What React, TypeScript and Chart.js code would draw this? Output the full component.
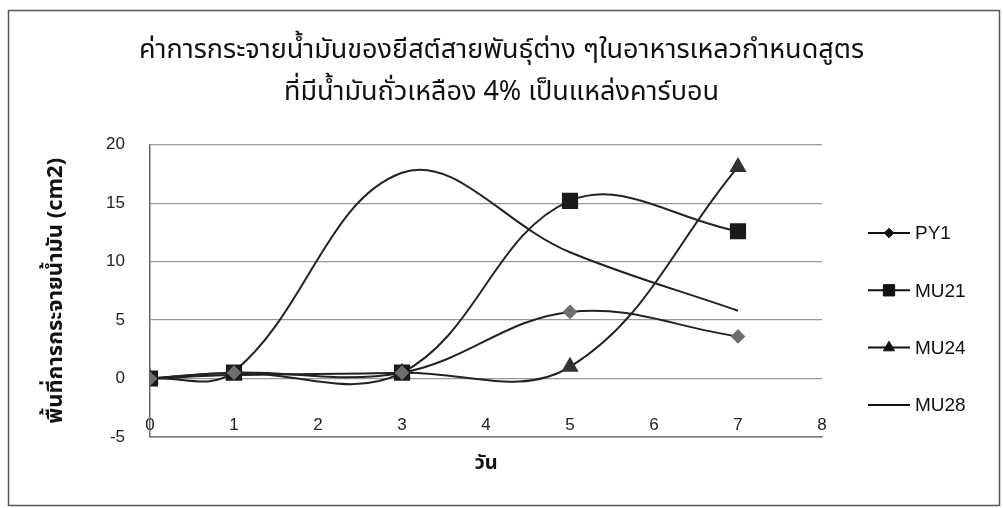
import React, { useEffect, useRef } from "react";
import { Chart, registerables } from "chart.js";
import { drawPoint } from "chart.js/helpers";

Chart.register(...registerables);

// ---- data ----
const days = [0, 1, 3, 5, 7];
const seriesNames = ["PY1", "MU21", "MU24", "MU28"];
const py1 = [0, 0.5, 0.5, 5.7, 3.6];
const mu21 = [0, 0.5, 0.5, 15.2, 12.6];
const mu24 = [0, 0.3, 0.5, 1.0, 18.1];
const mu28 = [0, 0.6, 17.6, 10.8, 5.8];
const titleLines = [
  "ค่าการกระจายน้ำมันของยีสต์สายพันธุ์ต่าง ๆในอาหารเหลวกำหนดสูตร",
  "ที่มีน้ำมันถั่วเหลือง 4% เป็นแหล่งคาร์บอน",
];
const yTitle = "พื้นที่การกระจายน้ำมัน (cm2)";
const xTitle = "วัน";
const xMin = 0, xMax = 8, xStep = 1;
const yMin = -5, yMax = 20, yStep = 5;

const toPoints = (vals: number[]) => days.map((d, i) => ({ x: d, y: vals[i] }));

const THAI_FONT = "'Noto Sans Thai', 'Noto Sans', 'DejaVu Sans', sans-serif";
const LATIN_FONT = "'Liberation Sans', Arial, sans-serif";

const frameLegendPlugin = {
  id: "frameLegend",
  beforeDraw(chart: any) {
    const { ctx, width, height } = chart;
    ctx.save();
    ctx.fillStyle = "#ffffff";
    ctx.fillRect(0, 0, width, height);
    ctx.strokeStyle = "#555";
    ctx.lineWidth = 1.5;
    ctx.strokeRect(8.5, 10.5, 991, 495);
    ctx.restore();
  },
  afterDraw(chart: any) {
    const { ctx, chartArea } = chart;
    const lx0 = chartArea.right + 46;
    const lx1 = lx0 + 42;
    const y0 = 233;
    const gap = 57.3;
    chart.data.datasets.forEach((ds: any, i: number) => {
      const y = y0 + gap * i;
      ctx.save();
      ctx.strokeStyle = "#111";
      ctx.lineWidth = 2;
      ctx.beginPath();
      ctx.moveTo(lx0, y);
      ctx.lineTo(lx1, y);
      ctx.stroke();
      if (ds.pointRadius > 0) {
        ctx.fillStyle = "#111";
        ctx.strokeStyle = "#111";
        ctx.lineWidth = 1;
        drawPoint(
          ctx,
          { pointStyle: ds.pointStyle, radius: ds.pointRadius * 0.8, rotation: 0, borderWidth: 1 },
          (lx0 + lx1) / 2,
          y
        );
      }
      ctx.fillStyle = "#111";
      ctx.font = `19px ${LATIN_FONT}`;
      ctx.textAlign = "left";
      ctx.textBaseline = "middle";
      ctx.fillText(ds.label, lx1 + 5, y + 1);
      ctx.restore();
    });
  },
};

export default function App() {
  const canvasRef = useRef<HTMLCanvasElement | null>(null);

  useEffect(() => {
    if (!canvasRef.current) return;
    const lineColor = "#222";
    const chart = new Chart(canvasRef.current, {
      type: "line",
      data: {
        datasets: [
          {
            label: seriesNames[0],
            data: toPoints(py1),
            borderColor: lineColor,
            backgroundColor: "#6e6e6e",
            pointBackgroundColor: "#6e6e6e",
            pointBorderColor: "#6e6e6e",
            pointStyle: "rectRot",
            pointRadius: 6,
            borderWidth: 2,
            tension: 0.38,
          },
          {
            label: seriesNames[1],
            data: toPoints(mu21),
            borderColor: lineColor,
            backgroundColor: "#1a1a1a",
            pointBackgroundColor: "#1a1a1a",
            pointBorderColor: "#1a1a1a",
            pointStyle: "rect",
            pointRadius: 10,
            borderWidth: 2,
            tension: 0.38,
          },
          {
            label: seriesNames[2],
            data: toPoints(mu24),
            borderColor: lineColor,
            backgroundColor: "#333",
            pointBackgroundColor: "#333",
            pointBorderColor: "#333",
            pointStyle: "triangle",
            pointRadius: 8,
            borderWidth: 2,
            tension: 0.38,
          },
          {
            label: seriesNames[3],
            data: toPoints(mu28),
            borderColor: lineColor,
            backgroundColor: lineColor,
            pointRadius: 0,
            pointStyle: "line",
            borderWidth: 2,
            tension: 0.38,
          },
        ],
      },
      options: {
        animation: false,
        responsive: false,
        layout: { padding: 0 },
        plugins: {
          legend: { display: false },
          tooltip: { enabled: false },
          title: {
            display: true,
            text: titleLines,
            color: "#111",
            font: { family: THAI_FONT, size: 27, weight: "normal", lineHeight: 1.55 },
            padding: { top: 32, bottom: 29 },
          },
        },
        scales: {
          x: {
            type: "linear",
            min: xMin,
            max: xMax,
            ticks: {
              stepSize: xStep,
              color: "#222",
              font: { family: LATIN_FONT, size: 17 },
              mirror: true,
              padding: 1,
            },
            grid: { display: false, drawTicks: false },
            border: { display: true, color: "#777", width: 1.5 },
            title: {
              display: true,
              text: xTitle,
              color: "#111",
              font: { family: THAI_FONT, size: 20, weight: "bold" },
              padding: { top: 0, bottom: 31 },
            },
            afterFit: (scale: any) => {
              scale.height = 71;
            },
          },
          y: {
            min: yMin,
            max: yMax,
            ticks: {
              stepSize: yStep,
              color: "#222",
              font: { family: LATIN_FONT, size: 17 },
              padding: 25,
            },
            grid: { color: "#999", lineWidth: 1.2, drawTicks: false },
            border: { display: true, color: "#666", width: 1.5 },
            title: {
              display: true,
              text: yTitle,
              color: "#111",
              font: { family: THAI_FONT, size: 22, weight: "bold" },
              padding: { top: 44, bottom: 0 },
            },
            afterFit: (scale: any) => {
              scale.width = 150;
            },
          },
          legendSpace: {
            type: "linear",
            position: "right",
            display: true,
            ticks: { display: false },
            grid: { display: false, drawTicks: false },
            border: { display: false },
            afterFit: (scale: any) => {
              scale.width = 181;
            },
          },
        },
      },
      plugins: [frameLegendPlugin],
    } as any);
    return () => chart.destroy();
  }, []);

  return (
    <div style={{ position: "absolute", left: 0, top: 0, width: 1003, height: 508 }}>
      <canvas ref={canvasRef} width={1003} height={508} style={{ display: "block" }} />
    </div>
  );
}
